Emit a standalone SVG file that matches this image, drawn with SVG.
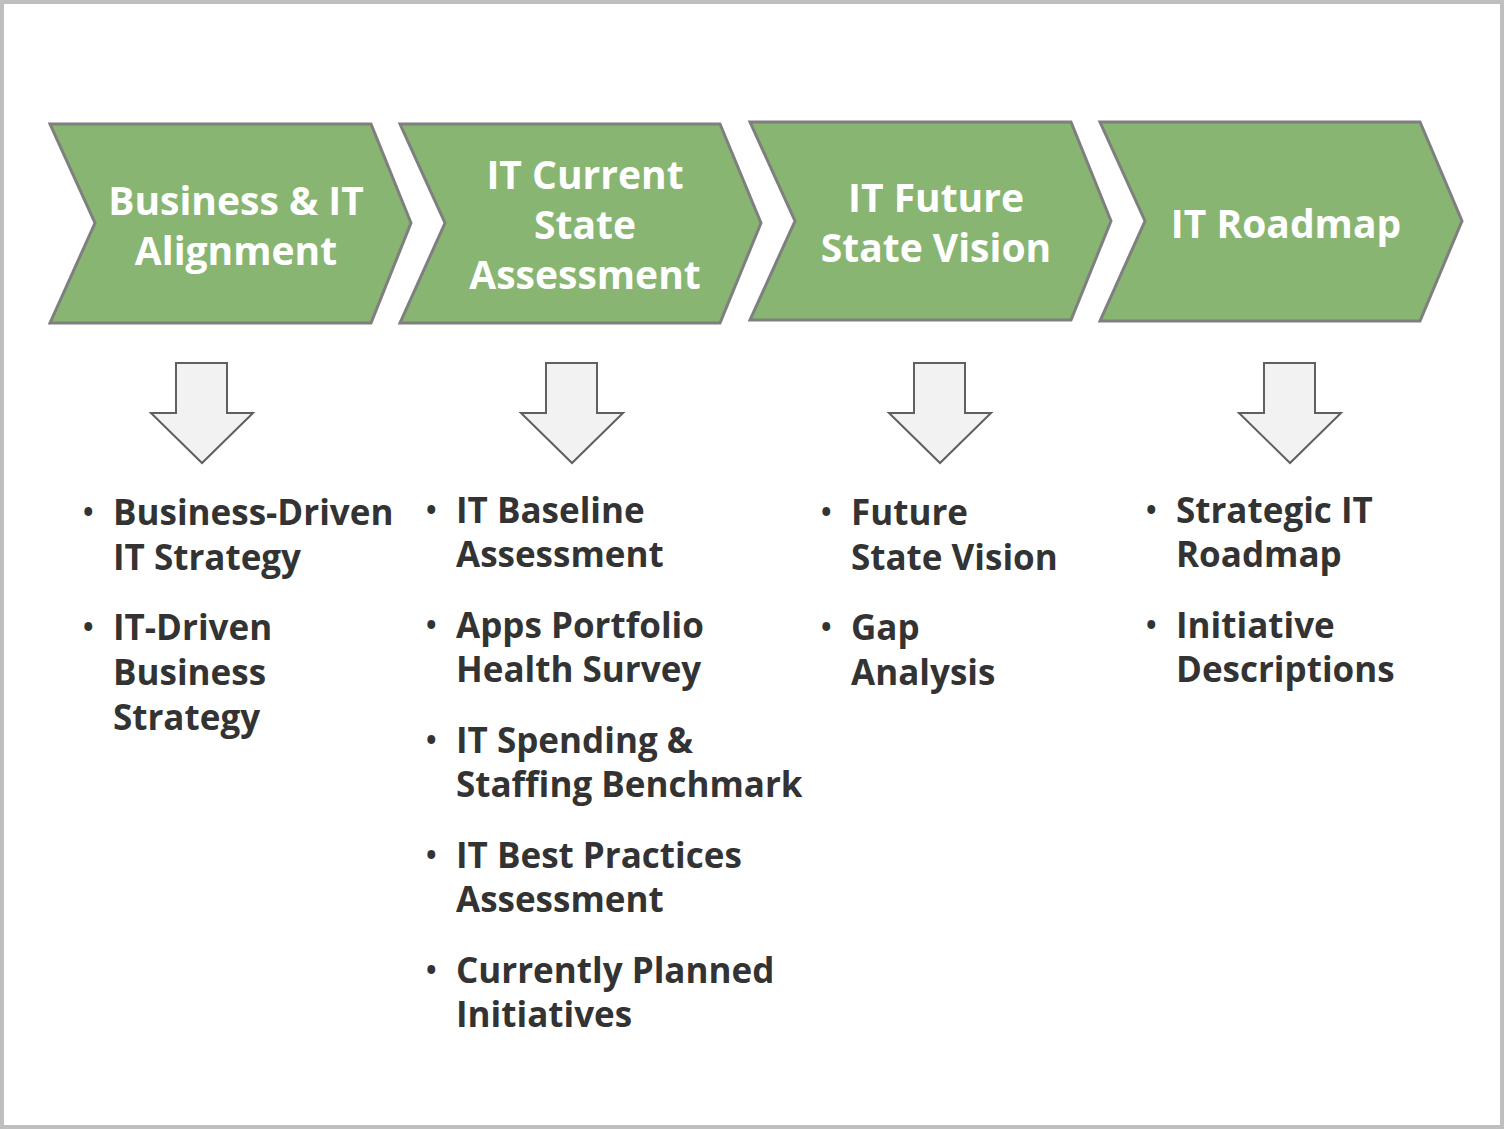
<svg xmlns="http://www.w3.org/2000/svg" width="1504" height="1129" viewBox="0 0 1504 1129">
<style>
.chev{fill:#88b672;stroke:#7f7f7f;stroke-width:3;stroke-linejoin:miter}
.arr{fill:#f2f2f2;stroke:#606060;stroke-width:2}
.title{font-family:"Open Sans","Liberation Sans",sans-serif;font-weight:700;font-size:39px;fill:#ffffff;text-anchor:middle}
.item{font-family:"Open Sans","Liberation Sans",sans-serif;font-weight:700;font-size:35px;fill:#333333}
.bul{font-family:"Open Sans","Liberation Sans",sans-serif;font-weight:700;font-size:28px;fill:#333333}
</style>
<rect x="2" y="2" width="1500" height="1125" fill="#ffffff" stroke="#bfbfbf" stroke-width="4"/>
<g id="step1">
<polygon class="chev" points="50,124 371,124 411,223 371,323 50,323 95,223"/>
<text class="title" x="236" y="215">Business &amp; IT</text>
<text class="title" x="236" y="265">Alignment</text>
</g>
<g id="step2">
<polygon class="chev" points="400,124 720,124 761,223 720,323 400,323 445,223"/>
<text class="title" x="585" y="189">IT Current</text>
<text class="title" x="585" y="239">State</text>
<text class="title" x="585" y="289">Assessment</text>
</g>
<g id="step3">
<polygon class="chev" points="750,122 1071,122 1111,221 1071,320 750,320 795,221"/>
<text class="title" x="936" y="212">IT Future</text>
<text class="title" x="936" y="262">State Vision</text>
</g>
<g id="step4">
<polygon class="chev" points="1100,122 1420,122 1462,221 1420,321 1100,321 1145,221"/>
<text class="title" x="1286" y="238">IT Roadmap</text>
</g>
<g id="connectors">
<polygon class="arr" points="176,363 227,363 227,413 253,413 202,463 151,413 176,413"/>
<polygon class="arr" points="546,363 597,363 597,413 623,413 572,463 521,413 546,413"/>
<polygon class="arr" points="914,363 965,363 965,413 991,413 940,463 889,413 914,413"/>
<polygon class="arr" points="1264,363 1315,363 1315,413 1341,413 1290,463 1239,413 1264,413"/>
</g>
<g id="list1">
<text class="bul" x="83" y="522">•</text>
<text class="item" x="113" y="525">Business-Driven</text>
<text class="item" x="113" y="570">IT Strategy</text>
<text class="bul" x="83" y="637">•</text>
<text class="item" x="113" y="640">IT-Driven</text>
<text class="item" x="113" y="685">Business</text>
<text class="item" x="113" y="730">Strategy</text>
</g>
<g id="list2">
<text class="bul" x="426" y="520">•</text>
<text class="item" x="456" y="523">IT Baseline</text>
<text class="item" x="456" y="567">Assessment</text>
<text class="bul" x="426" y="635">•</text>
<text class="item" x="456" y="638">Apps Portfolio</text>
<text class="item" x="456" y="682">Health Survey</text>
<text class="bul" x="426" y="750">•</text>
<text class="item" x="456" y="753">IT Spending &amp;</text>
<text class="item" x="456" y="797">Staffing Benchmark</text>
<text class="bul" x="426" y="865">•</text>
<text class="item" x="456" y="868">IT Best Practices</text>
<text class="item" x="456" y="912">Assessment</text>
<text class="bul" x="426" y="980">•</text>
<text class="item" x="456" y="983">Currently Planned</text>
<text class="item" x="456" y="1027">Initiatives</text>
</g>
<g id="list3">
<text class="bul" x="821" y="522">•</text>
<text class="item" x="851" y="525">Future</text>
<text class="item" x="851" y="570">State Vision</text>
<text class="bul" x="821" y="637">•</text>
<text class="item" x="851" y="640">Gap</text>
<text class="item" x="851" y="685">Analysis</text>
</g>
<g id="list4">
<text class="bul" x="1146" y="520">•</text>
<text class="item" x="1176" y="523">Strategic IT</text>
<text class="item" x="1176" y="567">Roadmap</text>
<text class="bul" x="1146" y="635">•</text>
<text class="item" x="1176" y="638">Initiative</text>
<text class="item" x="1176" y="682">Descriptions</text>
</g>
</svg>
